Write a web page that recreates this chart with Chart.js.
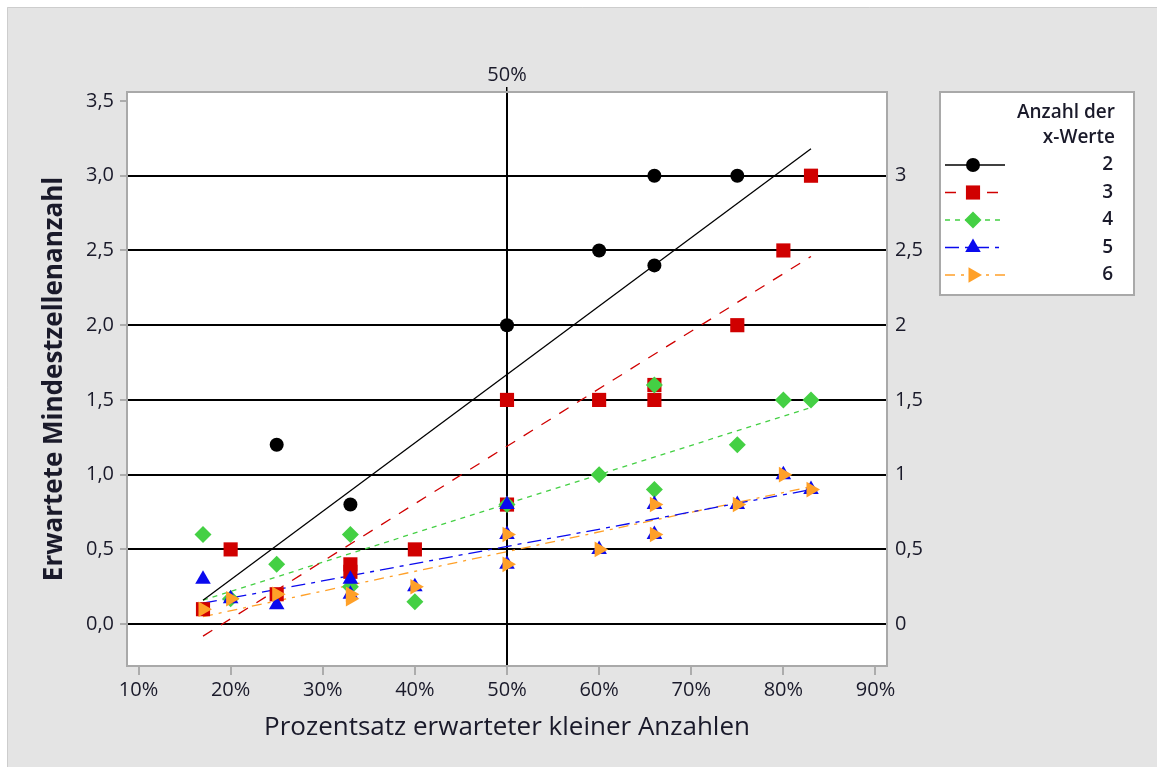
<!DOCTYPE html>
<html>
<head>
<meta charset="utf-8">
<script src="https://cdn.jsdelivr.net/npm/chart.js@4/dist/chart.umd.min.js"></script>
<style>
  html, body { margin: 0; padding: 0; background: #fff; }
  #wrap { width: 1157px; height: 767px; position: relative; }
</style>
</head>
<body>
<div id="wrap"><canvas id="chart" width="1157" height="767"></canvas></div>
<script>
// values (x = % expected small counts, y = min expected cell count)
var x2 = [25, 33, 50, 60, 66, 66, 75];
var y2 = [1.2, 0.8, 2.0, 2.5, 2.4, 3.0, 3.0];
var x3 = [17, 20, 25, 33, 33, 40, 50, 50, 60, 66, 66, 75, 80, 83];
var y3 = [0.1, 0.5, 0.2, 0.4, 0.35, 0.5, 1.5, 0.8, 1.5, 1.5, 1.6, 2.0, 2.5, 3.0];
var x4 = [17, 20, 25, 33, 33, 40, 50, 60, 66, 66, 75, 80, 83];
var y4 = [0.6, 0.17, 0.4, 0.6, 0.25, 0.15, 0.8, 1.0, 1.6, 0.9, 1.2, 1.5, 1.5];
var x5 = [17, 20, 25, 33, 33, 40, 50, 50, 50, 60, 66, 66, 75, 80, 83];
var y5 = [0.3, 0.17, 0.13, 0.3, 0.2, 0.25, 0.8, 0.6, 0.4, 0.5, 0.8, 0.6, 0.8, 1.0, 0.9];
var x6 = [17, 20, 25, 33, 33, 40, 50, 50, 60, 66, 66, 75, 80, 83];
var y6 = [0.1, 0.17, 0.2, 0.2, 0.17, 0.25, 0.6, 0.4, 0.5, 0.8, 0.6, 0.8, 1.0, 0.9];

// fitted lines (end points)
var fitX = [17, 83];
var fit2 = [0.16, 3.18];
var fit3 = [-0.08, 2.46];
var fit4 = [0.16, 1.45];
var fit5 = [0.14, 0.90];
var fit6 = [0.05, 0.92];

var groupNames = ['2', '3', '4', '5', '6'];
var xTicks = [10, 20, 30, 40, 50, 60, 70, 80, 90];
var yTicksLeft = [0, 0.5, 1, 1.5, 2, 2.5, 3, 3.5];
var yTicksRight = [0, 0.5, 1, 1.5, 2, 2.5, 3];
var refX = [50];

// styles
var colors = ['#000000', '#d00000', '#44d044', '#0a0aee', '#ffa028'];
var shapes = ['circle', 'rect', 'rectRot', 'triangle', 'triangle'];
var rotations = [0, 0, 0, 0, 90];
var radii = [7, 10, 8.5, 9, 9];
var dashes = [[], [11, 10], [5, 5], [14, 6, 4, 6], [10, 6, 3, 6]];

var xs = [x2, x3, x4, x5, x6];
var ys = [y2, y3, y4, y5, y6];
var fits = [fit2, fit3, fit4, fit5, fit6];

function pairs(a, b) {
    var out = [];
    for (var i = 0; i < a.length; i++) out.push({x: a[i], y: b[i]});
    return out;
}

var datasets = [];
for (var g = 0; g < 5; g++) {
    datasets.push({
        type: 'scatter',
        label: groupNames[g],
        data: pairs(xs[g], ys[g]),
        pointStyle: shapes[g],
        rotation: rotations[g],
        pointRadius: radii[g],
        pointHoverRadius: radii[g],
        backgroundColor: colors[g],
        borderColor: colors[g],
        borderWidth: 0,
        order: 5 - g
    });
}
for (var g = 0; g < 5; g++) {
    datasets.push({
        type: 'line',
        label: 'fit ' + groupNames[g],
        data: pairs(fitX, fits[g]),
        borderColor: colors[g],
        borderWidth: 1.3,
        borderDash: dashes[g],
        pointRadius: 0,
        fill: false,
        order: 20
    });
}

var FONT = '"Open Sans", "Noto Sans", sans-serif';

function drawMarker(ctx, shape, x, y, r, rot, color) {
    ctx.save();
    ctx.fillStyle = color;
    ctx.translate(x, y);
    ctx.rotate(rot * Math.PI / 180);
    ctx.beginPath();
    if (shape === 'circle') {
        ctx.arc(0, 0, r, 0, Math.PI * 2);
    } else if (shape === 'rect') {
        var s = r * Math.SQRT1_2;
        ctx.rect(-s, -s, 2 * s, 2 * s);
    } else if (shape === 'rectRot') {
        ctx.moveTo(-r, 0); ctx.lineTo(0, -r); ctx.lineTo(r, 0); ctx.lineTo(0, r);
    } else {
        for (var k = 0; k < 3; k++) {
            var a = k * 2 * Math.PI / 3;
            var px = Math.sin(a) * r, py = -Math.cos(a) * r;
            if (k === 0) ctx.moveTo(px, py); else ctx.lineTo(px, py);
        }
    }
    ctx.closePath();
    ctx.fill();
    ctx.restore();
}

// frame, plot box and legend
var decor = {
    id: 'decor',
    beforeDraw: function(chart) {
        var ctx = chart.ctx, a = chart.chartArea;
        ctx.save();
        ctx.fillStyle = '#ffffff';
        ctx.fillRect(0, 0, chart.width, chart.height);
        ctx.fillStyle = '#e4e4e4';
        ctx.fillRect(7, 7, chart.width - 7, chart.height - 7);
        ctx.strokeStyle = '#cdcdcd';
        ctx.lineWidth = 1;
        ctx.beginPath();
        ctx.moveTo(7.5, chart.height); ctx.lineTo(7.5, 7.5); ctx.lineTo(chart.width, 7.5);
        ctx.stroke();
        ctx.fillStyle = '#ffffff';
        ctx.fillRect(a.left, a.top, a.right - a.left, a.bottom - a.top);
        ctx.restore();
    },
    beforeDatasetsDraw: function(chart) {
        var ctx = chart.ctx, a = chart.chartArea;
        ctx.save();
        ctx.strokeStyle = '#a9a9a9';
        ctx.lineWidth = 2;
        ctx.strokeRect(a.left, a.top, a.right - a.left, a.bottom - a.top);
        ctx.restore();
    },
    afterDraw: function(chart) {
        var ctx = chart.ctx;
        ctx.save();
        var bx = 940, by = 92, bw = 194, bh = 203;
        ctx.fillStyle = '#ffffff';
        ctx.fillRect(bx, by, bw, bh);
        ctx.strokeStyle = '#a9a9a9';
        ctx.lineWidth = 2;
        ctx.strokeRect(bx, by, bw, bh);
        ctx.fillStyle = '#1a1a2a';
        ctx.font = '600 19px ' + FONT;
        ctx.textAlign = 'right';
        ctx.textBaseline = 'middle';
        ctx.fillText('Anzahl der', 1115, 113);
        ctx.fillText('x-Werte', 1115, 138);
        for (var g = 0; g < 5; g++) {
            var yy = 165 + g * 27.5;
            ctx.strokeStyle = colors[g];
            ctx.lineWidth = 1.6;
            ctx.setLineDash(dashes[g]);
            ctx.beginPath();
            ctx.moveTo(945, yy); ctx.lineTo(1005, yy);
            ctx.stroke();
            ctx.setLineDash([]);
            drawMarker(ctx, shapes[g], 973, yy, radii[g], rotations[g], colors[g]);
            ctx.fillStyle = '#1a1a2a';
            ctx.fillText(groupNames[g], 1113, yy);
        }
        ctx.restore();
    }
};

function setTicks(vals) {
    return function(scale) { scale.ticks = vals.map(function(v) { return {value: v}; }); };
}
function comma(v, digits) {
    return (digits ? v.toFixed(digits) : String(v)).replace('.', ',');
}

var TICKFONT = { family: FONT, size: 20 };

new Chart(document.getElementById('chart').getContext('2d'), {
    data: { datasets: datasets },
    plugins: [decor],
    options: {
        responsive: false,
        animation: false,
        events: [],
        layout: { padding: { left: 0, top: 0, right: 220, bottom: 0 } },
        plugins: { legend: { display: false }, tooltip: { enabled: false } },
        scales: {
            x: {
                type: 'linear', position: 'bottom', min: 8.75, max: 91.25,
                afterBuildTicks: setTicks(xTicks),
                afterFit: function(s) { s.height = 101; },
                border: { display: false },
                grid: {
                    color: function(c) { return refX.indexOf(c.tick && c.tick.value) >= 0 ? '#000' : 'rgba(0,0,0,0)'; },
                    lineWidth: 2, tickColor: '#9a9a9a', tickWidth: 1.5, tickLength: 9
                },
                ticks: { color: '#1a1a2a', padding: 3, font: TICKFONT,
                         maxRotation: 0, callback: function(v) { return v + '%'; } },
                title: { display: true, text: 'Prozentsatz erwarteter kleiner Anzahlen', color: '#1a1a2a',
                         font: { family: FONT, size: 26 }, padding: { top: 0, bottom: 24 } }
            },
            xTop: {
                type: 'linear', position: 'top', min: 8.75, max: 91.25,
                afterBuildTicks: setTicks(refX),
                afterFit: function(s) { s.height = 92; },
                border: { display: false },
                grid: { drawOnChartArea: false, color: '#000', lineWidth: 1.5, tickLength: 5 },
                ticks: { color: '#1a1a2a', padding: 0, font: TICKFONT,
                         callback: function(v) { return v + '%'; } }
            },
            y: {
                type: 'linear', position: 'left', min: -0.28, max: 3.56,
                afterBuildTicks: setTicks(yTicksLeft),
                afterFit: function(s) { s.width = 127; },
                border: { display: false },
                grid: {
                    color: function(c) { return c.tick && c.tick.value <= 3.01 ? '#000' : 'rgba(0,0,0,0)'; },
                    lineWidth: 2, tickColor: '#9a9a9a', tickWidth: 1.5, tickLength: 7
                },
                ticks: { color: '#1a1a2a', padding: 6, font: TICKFONT,
                         callback: function(v) { return comma(v, 1); } },
                title: { display: true, text: 'Erwartete Mindestzellenanzahl', color: '#1a1a2a',
                         font: { family: FONT, size: 26, weight: 'bold' }, padding: { top: 39, bottom: 0 } }
            },
            yRight: {
                type: 'linear', position: 'right', min: -0.28, max: 3.56,
                afterBuildTicks: setTicks(yTicksRight),
                afterFit: function(s) { s.width = 50; },
                border: { display: false },
                grid: { display: false, drawTicks: false },
                ticks: { color: '#1a1a2a', padding: 8, font: TICKFONT,
                         callback: function(v) { return comma(v, 0); } }
            }
        }
    }
});
</script>
</body>
</html>
